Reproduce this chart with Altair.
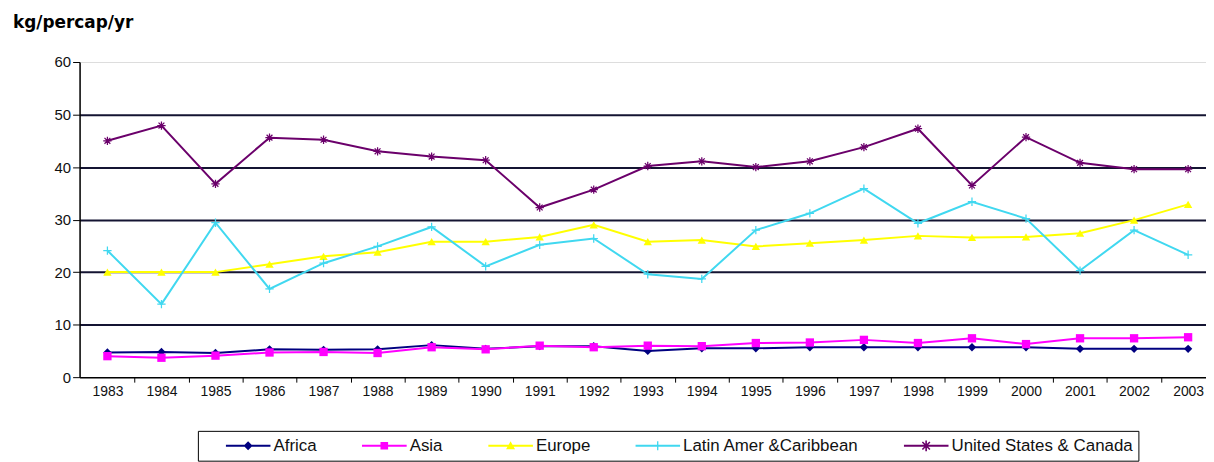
import altair as alt
import pandas as pd

years = list(range(1983, 2004))
series_names = ["Africa", "Asia", "Europe", "Latin Amer &Caribbean", "United States & Canada"]
africa = [4.7, 4.8, 4.6, 5.3, 5.2, 5.3, 6.1, 5.4, 5.9, 5.9, 5.0, 5.5, 5.5, 5.7, 5.7, 5.7, 5.7, 5.7, 5.4, 5.4, 5.4]
asia = [4.0, 3.7, 4.1, 4.7, 4.8, 4.6, 5.7, 5.3, 6.0, 5.7, 6.0, 5.9, 6.5, 6.6, 7.1, 6.5, 7.4, 6.3, 7.4, 7.4, 7.6]
europe = [20.0, 20.0, 20.0, 21.5, 23.0, 23.8, 25.8, 25.8, 26.7, 29.0, 25.8, 26.1, 24.9, 25.5, 26.1, 26.9, 26.6, 26.7, 27.4, 29.9, 32.9]
latin = [24.1, 13.9, 29.4, 16.8, 21.7, 24.9, 28.6, 21.1, 25.2, 26.4, 19.6, 18.7, 28.0, 31.2, 35.9, 29.3, 33.4, 30.2, 20.3, 28.0, 23.3]
us_canada = [45.0, 47.9, 36.8, 45.6, 45.2, 43.0, 42.0, 41.3, 32.3, 35.7, 40.2, 41.1, 40.0, 41.1, 43.8, 47.3, 36.5, 45.7, 40.8, 39.6, 39.6]
y_ticks = [0, 10, 20, 30, 40, 50, 60]

colors = ["#000080", "#FF00FF", "#FFFF00", "#40D8F0", "#6B006B"]

# marker outlines in the unit box [-1, 1]
diamond = [(0, -1), (1, 0), (0, 1), (-1, 0)]
square = [(-0.85, -0.85), (0.85, -0.85), (0.85, 0.85), (-0.85, 0.85)]
triangle = [(0, -1), (1, 0.8), (-1, 0.8)]
plus = [(-1, -0.15), (-0.15, -0.15), (-0.15, -1), (0.15, -1), (0.15, -0.15), (1, -0.15),
        (1, 0.15), (0.15, 0.15), (0.15, 1), (-0.15, 1), (-0.15, 0.15), (-1, 0.15)]
diag1 = [(-0.594, -0.806), (0.806, 0.594), (0.594, 0.806), (-0.806, -0.594)]
diag2 = [(-0.594, 0.806), (-0.806, 0.594), (0.594, -0.806), (0.806, -0.594)]
marker_polys = [[diamond], [square], [triangle], [plus], [plus, diag1, diag2]]


def to_path(polys, scale=1.0):
    out = ""
    for poly in polys:
        pts = ["%.3f,%.3f" % (px * scale, py * scale) for px, py in poly]
        out += "M" + "L".join(pts) + "Z"
    return out


plot_shapes = ["diamond", "square", "triangle-up", to_path([plus]), to_path([plus, diag1, diag2])]
legend_line = [(-1, -0.045), (1, -0.045), (1, 0.045), (-1, 0.045)]
legend_scales = [0.2, 0.2, 0.2, 0.2, 0.24]
legend_shapes = [to_path([legend_line]) + to_path(p, s) for p, s in zip(marker_polys, legend_scales)]

rows = []
for name, vals in zip(series_names, [africa, asia, europe, latin, us_canada]):
    for yr, v in zip(years, vals):
        rows.append({"year": yr, "value": v, "series": name, "key": name})
df = pd.DataFrame(rows)

x_vals = years + [y + 0.5 for y in years[:-1]]

x_enc = alt.X(
    "year:Q",
    scale=alt.Scale(domain=[1982.485, 2003.331], nice=False, zero=False),
    axis=alt.Axis(
        values=x_vals,
        title=None,
        grid=False,
        labelExpr="datum.value % 1 == 0 ? format(datum.value, 'd') : ''",
        tickOpacity={"condition": {"test": "datum.value % 1 == 0", "value": 0}, "value": 1},
        tickSize=5,
        tickColor="black",
        domainColor="black",
        domainWidth=1.5,
        labelFont="Liberation Sans",
        labelFontSize=14,
        labelColor="#111111",
        labelPadding=2,
        labelOverlap=False,
        labelFlush=False,
    ),
)
y_enc = alt.Y(
    "value:Q",
    scale=alt.Scale(domain=[0, 60], nice=False),
    axis=alt.Axis(
        values=y_ticks,
        title=None,
        grid=True,
        gridColor="#141432",
        gridWidth=2,
        gridOpacity={"condition": {"test": "datum.value == 0 || datum.value == 60", "value": 0}, "value": 1},
        tickSize=7,
        tickColor="black",
        domainColor="black",
        domainWidth=1.5,
        labelFont="Liberation Sans",
        labelFontSize=15,
        labelColor="#111111",
        labelPadding=2,
    ),
)

legend = alt.Legend(
    orient="none",
    legendX=119,
    legendY=371,
    direction="horizontal",
    title=" ",
    titleOrient="left",
    titlePadding=23,
    titleFontSize=16,
    titleFont="Liberation Sans",
    labelFont="Liberation Sans",
    labelFontSize=17,
    labelColor="#111111",
    labelLimit=0,
    labelOffset=3,
    columnPadding=45,
    clipHeight=20,
    padding=5,
    symbolSize=2025,
    symbolStrokeWidth=0,
    symbolOpacity=1,
    strokeColor="black",
)

lines = alt.Chart(df).mark_line(strokeWidth=2).encode(
    x=x_enc,
    y=y_enc,
    color=alt.Color("series:N", scale=alt.Scale(range=colors), legend=None),
)
points = alt.Chart(df).mark_point(filled=True, size=70, opacity=1, strokeWidth=0).encode(
    x=x_enc,
    y=y_enc,
    fill=alt.Fill("series:N", scale=alt.Scale(range=colors), legend=None),
    shape=alt.Shape("series:N", scale=alt.Scale(range=plot_shapes), legend=None),
)
legend_source = alt.Chart(df).mark_point(filled=True, opacity=0, strokeWidth=0).encode(
    x=x_enc,
    y=y_enc,
    fill=alt.Fill("key:N", scale=alt.Scale(range=colors), legend=legend),
    shape=alt.Shape("key:N", scale=alt.Scale(range=legend_shapes), legend=legend),
)

chart = (
    alt.layer(lines, points, legend_source)
    .resolve_scale(fill="independent", shape="independent")
    .properties(
        width=1133,
        height=317,
        autosize=alt.AutoSizeParams(type="none"),
        padding={"left": 72, "top": 53, "right": 0, "bottom": 84},
        title=alt.TitleParams(
            text="kg/percap/yr",
            anchor="start",
            frame="group",
            dx=-67,
            offset=23,
            font="DejaVu Sans",
            fontSize=17,
            fontWeight="bold",
            color="black",
        ),
    )
    .configure_view(fill="#CCCCFF", stroke="#808080", strokeWidth=1)
    .configure(background="white")
)

chart.save("out.html", embed_options={"renderer": "svg", "actions": False})
